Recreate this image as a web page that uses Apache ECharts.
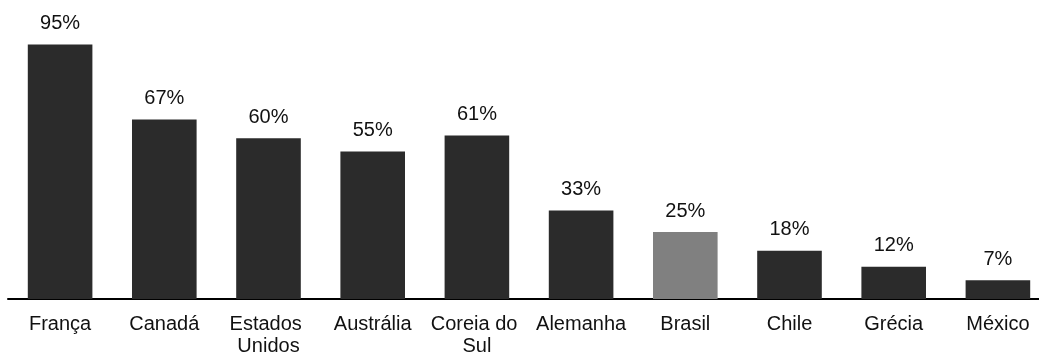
<!DOCTYPE html>
<html>
<head>
<meta charset="utf-8">
<script src="https://cdn.jsdelivr.net/npm/echarts@6/dist/echarts.min.js"></script>
<style>
  html, body { margin: 0; padding: 0; background: #ffffff; }
  #chart { width: 1039px; height: 353px; }
</style>
</head>
<body>
<div id="chart"></div>
<script>
// Share per country (percent)
const countries = ['França', 'Canadá', 'Estados Unidos', 'Austrália', 'Coreia do Sul', 'Alemanha', 'Brasil', 'Chile', 'Grécia', 'México'];
const shares = [95, 67, 60, 55, 61, 33, 25, 18, 12, 7];
const highlighted = 'Brasil';

const darkBar = '#2b2b2b';
const accentBar = '#808080';
const fontFamily = '"Liberation Sans", Arial, Helvetica, sans-serif';

const chart = echarts.init(document.getElementById('chart'), null, { renderer: 'canvas' });

chart.setOption({
  animation: false,
  backgroundColor: '#ffffff',
  grid: { left: 8, right: -11, top: 31, bottom: 54, containLabel: false, outerBoundsMode: 'none' },
  xAxis: {
    type: 'category',
    data: countries,
    axisLine: { show: true, lineStyle: { color: '#000000', width: 2 } },
    axisTick: { show: false },
    axisLabel: {
      color: '#111111',
      fontFamily: fontFamily,
      fontSize: 20,
      lineHeight: 22,
      margin: 14,
      width: 96,
      overflow: 'break',
      interval: 0
    }
  },
  yAxis: {
    type: 'value',
    min: 0,
    max: 100,
    show: false,
    splitLine: { show: false }
  },
  series: [{
    type: 'bar',
    barWidth: '62%',
    data: shares.map((v, i) => ({
      value: v,
      itemStyle: { color: countries[i] === highlighted ? accentBar : darkBar }
    })),
    label: {
      show: true,
      position: 'top',
      distance: 11,
      formatter: p => p.value + '%',
      color: '#111111',
      fontFamily: fontFamily,
      fontSize: 20
    }
  }]
});
</script>
</body>
</html>
